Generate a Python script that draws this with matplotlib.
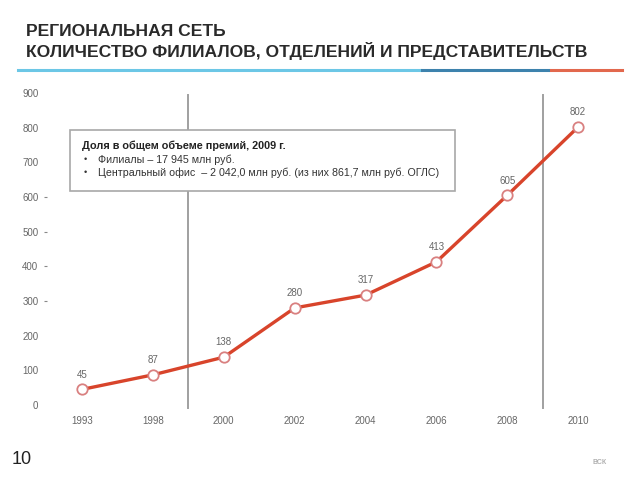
import matplotlib
matplotlib.use("Agg")
import matplotlib.pyplot as plt
from matplotlib.lines import Line2D
from matplotlib.patches import Rectangle

years = ["1993", "1998", "2000", "2002", "2004", "2006", "2008", "2010"]
values = [45, 87, 138, 280, 317, 413, 605, 802]
yticks = [0, 100, 200, 300, 400, 500, 600, 700, 800, 900]
dash_ticks = [300, 400, 500, 600]
title_lines = ["РЕГИОНАЛЬНАЯ СЕТЬ", "КОЛИЧЕСТВО ФИЛИАЛОВ, ОТДЕЛЕНИЙ И ПРЕДСТАВИТЕЛЬСТВ"]
box_title = "Доля в общем объеме премий, 2009 г."
box_items = ["Филиалы – 17 945 млн руб.",
             "Центральный офис  – 2 042,0 млн руб. (из них 861,7 млн руб. ОГЛС)"]
divider_positions = [1.5, 6.5]

plt.rcParams['font.family'] = ['Liberation Sans', 'DejaVu Sans']

fig = plt.figure(figsize=(6.4, 4.8), dpi=100)
ax = fig.add_axes([46.6/640, 75/480, 567/640, 312/480])

x = list(range(len(years)))
ax.plot(x, values, color="#d8442b", lw=2.4, zorder=3,
        marker="o", markersize=7.5, markerfacecolor="white",
        markeredgecolor="#d98080", markeredgewidth=1.3)
for xi, v in zip(x, values):
    ax.annotate(str(v), (xi, v), xytext=(0, 7), textcoords="offset points",
                ha="center", va="bottom", fontsize=7, color="#666666")

for d in divider_positions:
    ax.axvline(d, ymin=-0.01, ymax=0.995, color="#a0a0a0", lw=1.4, zorder=2, clip_on=False)

ax.set_xlim(-0.5, len(years) - 0.5)
ax.set_ylim(0, 900)
ax.set_xticks(x)
ax.set_xticklabels(years)
ax.set_yticks(yticks)
ax.tick_params(axis="x", length=0, pad=8, labelsize=7, labelcolor="#666666")
ax.tick_params(axis="y", length=2.3, width=0.8, color="#888888", pad=3.6,
               labelsize=7, labelcolor="#666666")
for t, val in zip(ax.yaxis.get_major_ticks(), yticks):
    t.tick1line.set_visible(val in dash_ticks)
for s in ax.spines.values():
    s.set_visible(False)
ax.set_facecolor("none")

# info box
fig.patches.append(Rectangle((70/640, 1 - 191/480), 385/640, 61/480,
                             transform=fig.transFigure, facecolor="white",
                             edgecolor="#a8a8a8", lw=1.2, zorder=5))
fig.text(82/640, 1 - 146/480, box_title, fontsize=7.85, fontweight="bold",
         color="#222222", va="center", zorder=6)
for i, item in enumerate(box_items):
    yy = 1 - (160 + 12.5*i)/480
    fig.text(84/640, yy, "•", fontsize=6.5, color="#333333", va="center", zorder=6)
    fig.text(98/640, yy, item, fontsize=7.65, color="#333333", va="center", zorder=6)

# title
for i, line in enumerate(title_lines):
    fig.text(26/640, 1 - (31 + 19.5*i)/480, line, fontsize=12.6, fontweight="bold",
             color="#2a2a2a", va="center")

# colored underline
for x0, x1, c in [(18, 420, "#6cc7e6"), (422, 548, "#3d82ad"), (551, 622, "#e2684d")]:
    fig.add_artist(Line2D([x0/640, x1/640], [1 - 70/480, 1 - 70/480],
                          transform=fig.transFigure, color=c, lw=2.2))

fig.text(12/640, 1 - 460/480, "10", fontsize=13, color="#222222", va="center")
fig.text(600/640, 1 - 462/480, "ВСК", fontsize=5, color="#b0b0b0", va="center",
         fontweight="bold", ha="center")

fig.savefig("out.png", dpi=100)
